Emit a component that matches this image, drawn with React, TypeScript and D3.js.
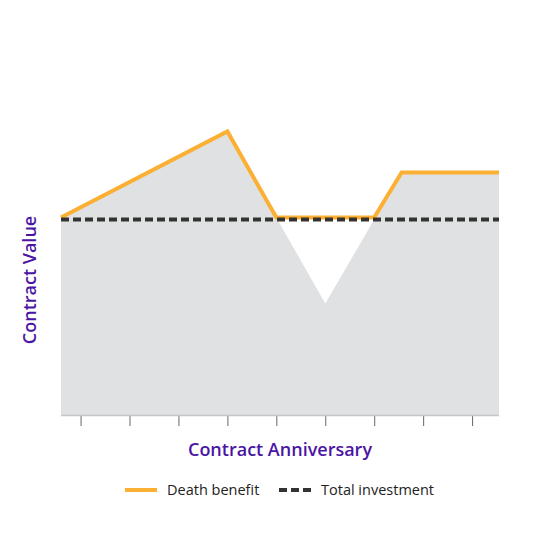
import * as d3 from "d3";
import { useEffect, useRef } from "react";

// anniversary positions (years) and values
const valueYears = [0.6, 4, 6, 7.56, 9.55];
const contractValue = [101, 145, 57, 124, 124];
const benefitYears = [0.6, 4, 5, 7, 7.56, 9.55];
const deathBenefit = [101, 145, 101, 101, 124, 124];
const totalInvestment = 100;
const tickYears = [1, 2, 3, 4, 5, 6, 7, 8, 9];
const legendLabels = ["Death benefit", "Total investment"];

const ORANGE = "#FBB034";
const PURPLE = "#4A15A3";
const DARK = "#333333";

const App = () => {
  const svgRef = useRef<SVGSVGElement>(null);

  useEffect(() => {
    const svg = d3.select(svgRef.current);
    svg.selectAll("*").remove();

    const x = d3.scaleLinear().domain([0.6, 9.55]).range([61, 499]);
    const y = d3.scaleLinear().domain([0, 200]).range([415, 24]);

    const valueData = valueYears.map((t, i) => [t, contractValue[i]] as [number, number]);
    const benefitData = benefitYears.map((t, i) => [t, deathBenefit[i]] as [number, number]);

    // grey area = contract value
    const area = d3.area<[number, number]>()
      .x(d => x(d[0]))
      .y0(y(0))
      .y1(d => y(d[1]));
    svg.append("path")
      .datum(valueData)
      .attr("fill", "#e0e1e3")
      .attr("d", area);

    // x axis with ticks only
    const axis = svg.append("g")
      .attr("transform", `translate(0, ${y(0)})`)
      .call(d3.axisBottom(x).tickValues(tickYears).tickSize(11).tickFormat(() => ""));
    axis.select(".domain").remove();
    axis.selectAll(".tick line").attr("stroke", "#666").attr("stroke-width", 1);
    svg.append("line")
      .attr("x1", x(0.6)).attr("x2", x(9.55))
      .attr("y1", y(0) + 0.5).attr("y2", y(0) + 0.5)
      .attr("stroke", "#c4c5c7").attr("stroke-width", 1.5);

    // death benefit line
    const line = d3.line<[number, number]>()
      .x(d => x(d[0]))
      .y(d => y(d[1]));
    svg.append("path")
      .datum(benefitData)
      .attr("fill", "none")
      .attr("stroke", ORANGE)
      .attr("stroke-width", 4)
      .attr("stroke-linejoin", "miter")
      .attr("d", line);

    // total investment dashed line
    svg.append("line")
      .attr("x1", x(0.6)).attr("x2", x(9.55))
      .attr("y1", y(totalInvestment)).attr("y2", y(totalInvestment))
      .attr("stroke", DARK)
      .attr("stroke-width", 4)
      .attr("stroke-dasharray", "8 4");

    // axis titles
    svg.append("text")
      .attr("x", 280).attr("y", 456)
      .attr("text-anchor", "middle")
      .attr("font-family", "Open Sans")
      .attr("font-weight", 600)
      .attr("font-size", 18)
      .attr("fill", PURPLE)
      .text("Contract Anniversary");
    svg.append("text")
      .attr("transform", "translate(36, 280) rotate(-90)")
      .attr("text-anchor", "middle")
      .attr("font-family", "Open Sans")
      .attr("font-weight", 600)
      .attr("font-size", 18)
      .attr("fill", PURPLE)
      .text("Contract Value");

    // legend
    const legend = svg.append("g").attr("transform", "translate(0, 490)");
    legend.append("line")
      .attr("x1", 125).attr("x2", 157).attr("y1", 0).attr("y2", 0)
      .attr("stroke", ORANGE).attr("stroke-width", 4);
    legend.append("line")
      .attr("x1", 279).attr("x2", 311).attr("y1", 0).attr("y2", 0)
      .attr("stroke", DARK).attr("stroke-width", 4).attr("stroke-dasharray", "8 4");
    legend.selectAll("text.lbl")
      .data(legendLabels)
      .join("text")
      .attr("class", "lbl")
      .attr("x", (_, i) => (i === 0 ? 167 : 321))
      .attr("y", 5)
      .attr("font-family", "Open Sans")
      .attr("font-size", 14.5)
      .attr("fill", "#222")
      .text(d => d);
  }, []);

  return (
    <svg ref={svgRef} width={560} height={560} style={{ display: "block", margin: -8 }} />
  );
};

export default App;
